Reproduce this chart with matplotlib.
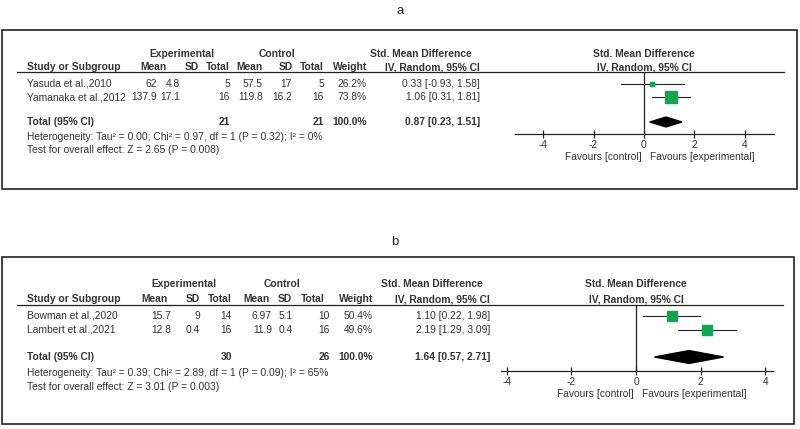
import matplotlib
matplotlib.use("Agg")
import matplotlib.pyplot as plt
from matplotlib.patches import Polygon, Rectangle
from matplotlib.transforms import blended_transform_factory

plt.rcParams['font.family'] = ['Liberation Sans', 'DejaVu Sans']

# ---- data: panel a ----
a_studies = ["Yasuda et al.,2010", "Yamanaka et al.,2012"]
a_exp_mean = ["62", "137.9"]
a_exp_sd = ["4.8", "17.1"]
a_exp_n = [5, 16]
a_ctl_mean = ["57.5", "119.8"]
a_ctl_sd = ["17", "16.2"]
a_ctl_n = [5, 16]
a_weight = [26.2, 73.8]
a_smd = [0.33, 1.06]
a_lo = [-0.93, 0.31]
a_hi = [1.58, 1.81]
a_total = (0.87, 0.23, 1.51)
a_het = "Heterogeneity: Tau\u00b2 = 0.00; Chi\u00b2 = 0.97, df = 1 (P = 0.32); I\u00b2 = 0%"
a_test = "Test for overall effect: Z = 2.65 (P = 0.008)"

# ---- data: panel b ----
b_studies = ["Bowman et al.,2020", "Lambert et al.,2021"]
b_exp_mean = ["15.7", "12.8"]
b_exp_sd = ["9", "0.4"]
b_exp_n = [14, 16]
b_ctl_mean = ["6.97", "11.9"]
b_ctl_sd = ["5.1", "0.4"]
b_ctl_n = [10, 16]
b_weight = [50.4, 49.6]
b_smd = [1.10, 2.19]
b_lo = [0.22, 1.29]
b_hi = [1.98, 3.09]
b_total = (1.64, 0.57, 2.71)
b_het = "Heterogeneity: Tau\u00b2 = 0.39; Chi\u00b2 = 2.89, df = 1 (P = 0.09); I\u00b2 = 65%"
b_test = "Test for overall effect: Z = 3.01 (P = 0.003)"

ticks = [-4, -2, 0, 2, 4]

W, H = 800, 429
TXT = '#333333'
GREEN = '#12a54f'
FS = 7.4

fig = plt.figure(figsize=(W / 100, H / 100), dpi=100)
tab = fig.add_axes([0, 0, 1, 1])
tab.set_xlim(0, W)
tab.set_ylim(H, 0)
tab.axis('off')


def px_axes(x0, y0, x1, y1):
    return fig.add_axes([x0 / W, 1 - y1 / H, (x1 - x0) / W, (y1 - y0) / H])


def panel(L, studies, em, esd, en, cm, csd, cn, wt, smd, lo, hi, tot, het, test):
    # frame and title
    tab.add_patch(Rectangle((L['box'][0], L['box'][1]), L['box'][2] - L['box'][0],
                            L['box'][3] - L['box'][1], fill=False, ec='#222222', lw=1.2))
    tab.text(L['title'][0], L['title'][1], L['label'], ha='center', va='center',
             fontsize=9.5, color='#222222', family=['Liberation Sans Narrow', 'Liberation Sans', 'DejaVu Sans'])

    hy1, hy2 = L['hy']
    c = L['hcol']
    hb = dict(fontsize=FS, color=TXT, fontweight='bold', va='center')
    tab.text(L['grp'][0], hy1, "Experimental", ha='center', **hb)
    tab.text(L['grp'][1], hy1, "Control", ha='center', **hb)
    tab.text(L['grp'][2], hy1, "Std. Mean Difference", ha='center', **hb)
    tab.text(27, hy2, "Study or Subgroup", ha='left', **hb)
    for lab, x in zip(["Mean", "SD", "Total", "Mean", "SD", "Total", "Weight", "IV, Random, 95% CI"], c):
        tab.text(x, hy2, lab, ha='right', **hb)
    tab.plot([17, L['hline_end']], [L['hline'], L['hline']], color='#222222', lw=0.9)

    d = L['dcol']
    nb = dict(fontsize=FS, color=TXT, va='center')
    for i, s in enumerate(studies):
        y = L['rows'][i]
        tab.text(27, y, s, ha='left', **nb)
        vals = [em[i], esd[i], str(en[i]), cm[i], csd[i], str(cn[i]),
                "%.1f%%" % wt[i], "%.2f [%.2f, %.2f]" % (smd[i], lo[i], hi[i])]
        for v, x in zip(vals, d):
            tab.text(x, y, v, ha='right', **nb)
    ty = L['rows'][2]
    tab.text(27, ty, "Total (95% CI)", ha='left', **hb)
    tab.text(d[2], ty, str(sum(en)), ha='right', **hb)
    tab.text(d[5], ty, str(sum(cn)), ha='right', **hb)
    tab.text(d[6], ty, "%.1f%%" % sum(wt), ha='right', **hb)
    tab.text(d[7], ty, "%.2f [%.2f, %.2f]" % tot, ha='right', **hb)
    tab.text(27, L['foot'][0], het, ha='left', **nb)
    tab.text(27, L['foot'][1], test, ha='left', **nb)

    # forest plot
    x0, x1 = L['fx']
    ax = px_axes(x0, L['hline'], x1, L['axis_y'])
    ax.set_xlim(*L['xlim'])
    sp = L['rows'][1] - L['rows'][0]
    r0 = L['rows'][0]
    ax.set_ylim((L['axis_y'] - r0) / sp, (L['hline'] - r0) / sp)
    ax.patch.set_alpha(0)
    for k in ['top', 'left', 'right']:
        ax.spines[k].set_visible(False)
    ax.spines['bottom'].set_color('#222222')
    ax.spines['bottom'].set_linewidth(0.9)
    ax.set_yticks([])
    ax.set_xticks(ticks)
    ax.set_xticklabels([str(t) for t in ticks])
    ax.tick_params(axis='x', direction='inout', length=5.5, width=0.9, color='#222222',
                   labelsize=FS, labelcolor=TXT, pad=1.5)
    ax.axvline(0, color='#222222', lw=0.9)
    for i in range(len(studies)):
        ax.plot([lo[i], hi[i]], [i, i], color='#222222', lw=0.8, zorder=2)
        ax.plot(smd[i], i, marker='s', ls='none', color=GREEN,
                markersize=wt[i] * L['msc'] * 0.72, zorder=3)
    tr = (L['rows'][2] - r0) / sp
    h = L['dh']
    ax.add_patch(Polygon([(tot[1], tr), (tot[0], tr - h), (tot[2], tr), (tot[0], tr + h)],
                         closed=True, color='black', zorder=3))
    bl = blended_transform_factory(ax.transData, tab.transData)
    ax.annotate("Favours [control]", xy=(0, L['fav']), xycoords=bl, xytext=(-2, 0),
                textcoords='offset points', ha='right', va='center', fontsize=FS, color=TXT,
                annotation_clip=False)
    ax.annotate("Favours [experimental]", xy=(0, L['fav']), xycoords=bl, xytext=(4, 0),
                textcoords='offset points', ha='left', va='center', fontsize=FS, color=TXT,
                annotation_clip=False)
    tab.text((0 - L['xlim'][0]) / (L['xlim'][1] - L['xlim'][0]) * (x1 - x0) + x0, hy1,
             "Std. Mean Difference", ha='center', **hb)
    tab.text((0 - L['xlim'][0]) / (L['xlim'][1] - L['xlim'][0]) * (x1 - x0) + x0, hy2,
             "IV, Random, 95% CI", ha='center', **hb)


layout_a = dict(label='a', box=(2, 30, 797, 189), title=(400, 11), hy=(54, 67),
                grp=(182, 277, 421), hcol=[167, 199, 230, 263, 293, 324, 367, 480],
                dcol=[157, 180, 230, 263, 292, 324, 367, 480],
                hline=72, hline_end=784, rows=[84, 97, 122], foot=(137, 150),
                fx=(515, 774), xlim=(-5.12, 5.16), axis_y=134, fav=157, msc=0.165, dh=0.38)
layout_b = dict(label='b', box=(2, 257, 794, 424), title=(395, 242), hy=(284, 299),
                grp=(184, 282, 432), hcol=[168, 200, 232, 270, 292, 325, 373, 490],
                dcol=[171, 200, 232, 272, 293, 330, 373, 490],
                hline=305, hline_end=783, rows=[316, 330, 357], foot=(373, 387),
                fx=(501, 773), xlim=(-4.18, 4.24), axis_y=371, fav=394, msc=0.19, dh=0.46)

panel(layout_a, a_studies, a_exp_mean, a_exp_sd, a_exp_n, a_ctl_mean, a_ctl_sd, a_ctl_n,
      a_weight, a_smd, a_lo, a_hi, a_total, a_het, a_test)
panel(layout_b, b_studies, b_exp_mean, b_exp_sd, b_exp_n, b_ctl_mean, b_ctl_sd, b_ctl_n,
      b_weight, b_smd, b_lo, b_hi, b_total, b_het, b_test)

fig.savefig("out.png", dpi=100)
